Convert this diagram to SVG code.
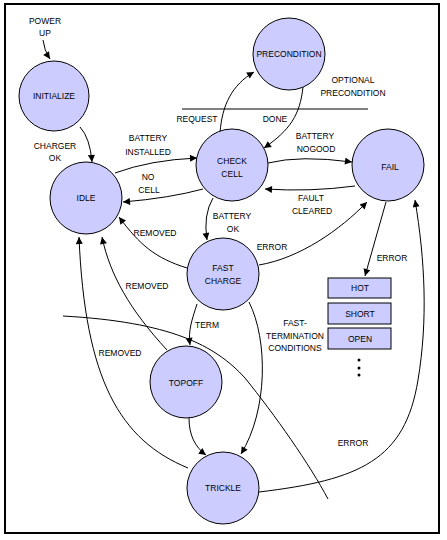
<svg xmlns="http://www.w3.org/2000/svg" width="447" height="540" viewBox="0 0 447 540">
<style>
.n{fill:#CCCCFF;stroke:#000;stroke-width:1}
.c{fill:none;stroke:#000;stroke-width:1}
.a{fill:none;stroke:#000;stroke-width:1;marker-end:url(#ah)}
text{font-family:"Liberation Sans",Arial,sans-serif;font-size:8.5px;fill:#000;text-anchor:middle}
</style>
<defs>
<marker id="ah" viewBox="0 0 10 10" refX="10" refY="5" markerWidth="9" markerHeight="7" markerUnits="userSpaceOnUse" orient="auto">
<path d="M0,0 L10,5 L0,10 z" fill="#000"/>
</marker>
</defs>
<rect x="0" y="0" width="447" height="540" fill="#fff"/>
<rect x="5" y="4" width="434" height="529" fill="none" stroke="#000" stroke-width="2"/>

<g id="connectors">
<path class="a" d="M43,40 Q44,50 50,59"/>
<path class="a" d="M80,127 Q90,138 92,162"/>
<path class="a" d="M115,173 Q150,160 197,158"/>
<path class="a" d="M203,189 Q170,198 123,202"/>
<path class="a" d="M220,133 C222,105 232,85 254,72"/>
<path class="a" d="M303,87 C300,115 290,130 264,148"/>
<path class="a" d="M268,163 Q300,155 352,162"/>
<path class="a" d="M355,186 Q310,192 265,189"/>
<path class="a" d="M213,198 Q203,215 207,240"/>
<path class="a" d="M259,265 C300,258 340,230 367,202"/>
<path class="a" d="M187,268 C155,258 140,245 119,217"/>
<path class="a" d="M167,350 C130,310 110,275 102,237"/>
<path class="a" d="M188,468 C120,440 85,380 79,237"/>
<path class="a" d="M197,304 C192,320 188,330 190,345"/>
<path class="a" d="M249,302 C268,340 268,410 241,454"/>
<path class="a" d="M189,418 C189,435 195,447 206,455"/>
<path class="a" d="M386,202 L365,276"/>
<path class="a" d="M259,492 C360,480 405,460 418,380 C428,320 425,260 415,200"/>
<path class="c" d="M63,316 C170,322 215,345 245,378 C275,415 310,465 328,499"/>
<path class="c" d="M182,109 L368,109"/>
</g>

<g id="initialize"><circle class="n" cx="54" cy="96" r="35"/><text x="54" y="99">INITIALIZE</text></g>
<g id="idle"><circle class="n" cx="86" cy="198" r="36"/><text x="86" y="201">IDLE</text></g>
<g id="checkcell"><circle class="n" cx="232" cy="165" r="36"/><text x="232" y="164">CHECK</text><text x="232" y="177">CELL</text></g>
<g id="precondition"><circle class="n" cx="289" cy="54" r="36"/><text x="289" y="57">PRECONDITION</text></g>
<g id="fail"><circle class="n" cx="388" cy="165" r="36"/><text x="390" y="170">FAIL</text></g>
<g id="fastcharge"><circle class="n" cx="223" cy="274" r="36"/><text x="223" y="271">FAST</text><text x="223" y="284">CHARGE</text></g>
<g id="topoff"><circle class="n" cx="186" cy="382" r="36"/><text x="186" y="386">TOPOFF</text></g>
<g id="trickle"><circle class="n" cx="223" cy="488" r="36"/><text x="223" y="491">TRICKLE</text></g>
<g id="hot"><rect class="n" x="328" y="278" width="63" height="20"/><text x="360" y="291">HOT</text></g>
<g id="short"><rect class="n" x="328" y="303" width="63" height="21"/><text x="360" y="317">SHORT</text></g>
<g id="open"><rect class="n" x="328" y="328" width="63" height="21"/><text x="360" y="342">OPEN</text></g>
<g id="dots"><circle cx="359" cy="360" r="1.5"/><circle cx="359" cy="368" r="1.5"/><circle cx="359" cy="375" r="1.5"/></g>

<g id="labels">
<text x="45" y="24">POWER</text><text x="45" y="36">UP</text>
<text x="55" y="149">CHARGER</text><text x="55" y="161">OK</text>
<text x="148" y="141">BATTERY</text><text x="148" y="155">INSTALLED</text>
<text x="148" y="180">NO</text><text x="149" y="193">CELL</text>
<text x="353" y="83">OPTIONAL</text><text x="353" y="96">PRECONDITION</text>
<text x="197" y="122">REQUEST</text><text x="275" y="122">DONE</text>
<text x="315" y="139">BATTERY</text><text x="316" y="152">NOGOOD</text>
<text x="311" y="201">FAULT</text><text x="312" y="214">CLEARED</text>
<text x="232" y="219">BATTERY</text><text x="233" y="232">OK</text>
<text x="272" y="250">ERROR</text>
<text x="155" y="236">REMOVED</text>
<text x="147" y="289">REMOVED</text>
<text x="392" y="261">ERROR</text>
<text x="207" y="328">TERM</text>
<text x="295" y="326">FAST-</text><text x="295" y="339">TERMINATION</text><text x="295" y="351">CONDITIONS</text>
<text x="120" y="356">REMOVED</text>
<text x="353" y="446">ERROR</text>
</g>
</svg>
